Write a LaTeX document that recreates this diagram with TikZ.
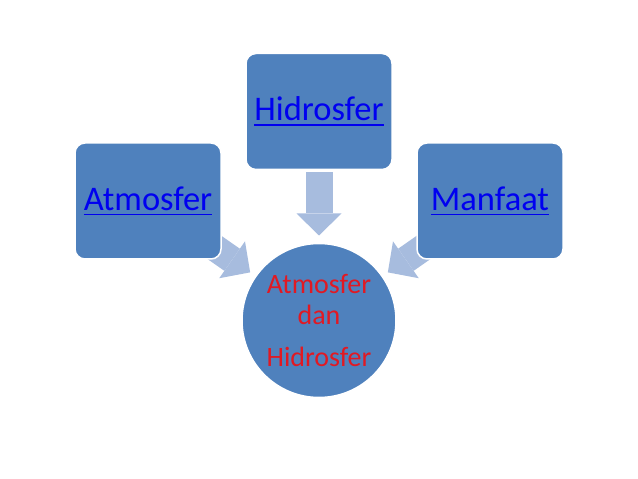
\documentclass[tikz,border=0pt]{standalone}
\usepackage{fontspec}
\setmainfont{Carlito}
\usetikzlibrary{calc}
\usetikzlibrary{arrows.meta}
\usetikzlibrary{backgrounds}

\definecolor{birukotak}{RGB}{79,129,189}
\definecolor{birupanah}{RGB}{167,188,222}
\definecolor{birutautan}{RGB}{0,0,240}
\definecolor{merahteks}{RGB}{225,25,35}
\newcommand{\garisbawah}[1]{\setbox0\hbox{#1}\rlap{\rule[-5pt]{\wd0}{1.8pt}}\box0}

\begin{document}
\begin{tikzpicture}[x=1pt,y=1pt,
  kotak/.style={rectangle,rounded corners=10pt,fill=birukotak,draw=white,line width=1.5pt,
    minimum width=146pt,minimum height=116pt,inner sep=0pt,text=birutautan,
    font=\fontsize{34.5}{40}\selectfont},
  lingkaran/.style={circle,fill=birukotak,draw=white,line width=1.5pt,minimum size=154pt,
    inner sep=0pt,text=merahteks,align=center,font=\fontsize{28}{31}\selectfont},
  panah/.style={birupanah,line width=27pt,-{Triangle[length=22pt,width=45pt,line width=0pt]}}]

\useasboundingbox (0,0) rectangle (638,479);

\node[kotak] (hidro) at (319,367.5) {\garisbawah{Hidrosfer}};
\node[kotak] (atmo) at (148,278) {\garisbawah{Atmosfer}};
\node[kotak] (manfaat) at (490,278) {\garisbawah{Manfaat}};
\node[lingkaran] (pusat) at (319,158.5) {Atmosfer\\dan\\[11pt]Hidrosfer};

\begin{scope}[on background layer]
\draw[panah] ($(pusat)!148pt!(hidro)$) -- ($(pusat)!85pt!(hidro)$);
\draw[panah] ($(pusat)!148pt!(atmo)$) -- ($(pusat)!84pt!(atmo)$);
\draw[panah] ($(pusat)!148pt!(manfaat)$) -- ($(pusat)!84pt!(manfaat)$);
\end{scope}

\end{tikzpicture}
\end{document}
